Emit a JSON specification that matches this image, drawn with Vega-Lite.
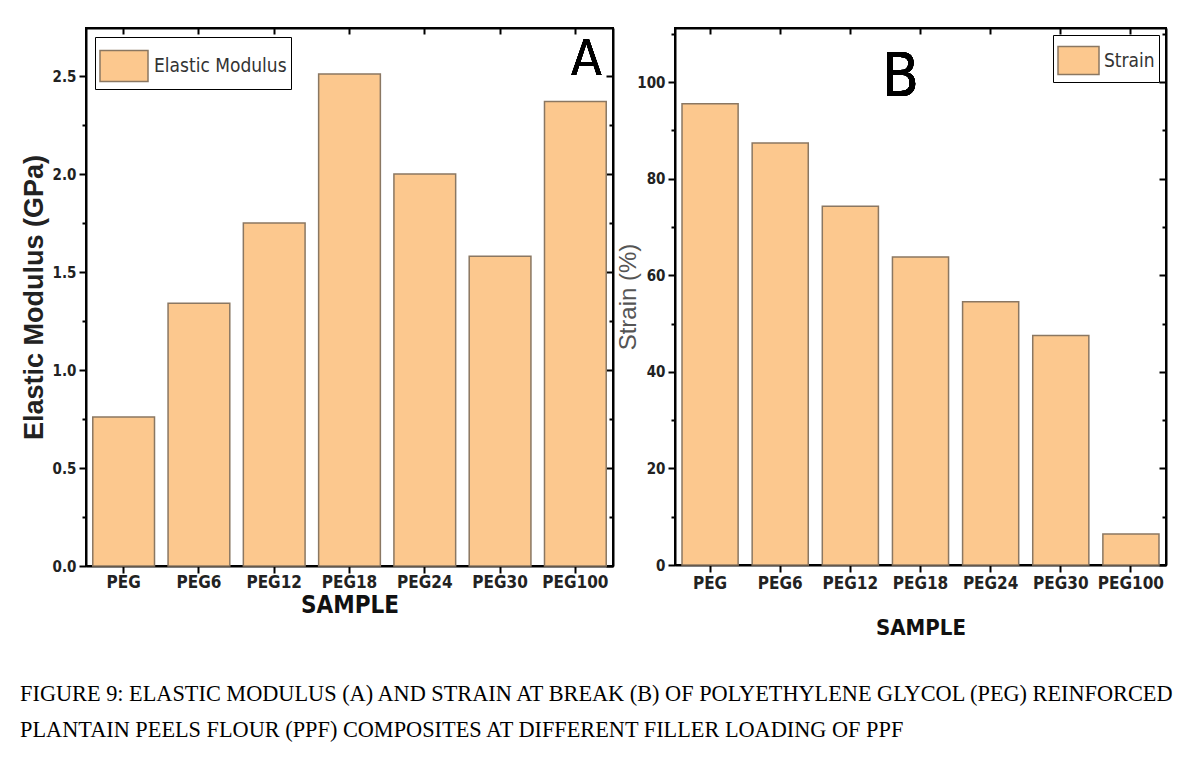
{
  "$schema": "https://vega.github.io/schema/vega-lite/v6.json",
  "background": "white",
  "padding": {"left": 19, "top": 26, "right": 20, "bottom": 5},
  "spacing": 0,
  "title": {
    "text": ["FIGURE 9: ELASTIC MODULUS (A) AND STRAIN AT BREAK (B) OF POLYETHYLENE GLYCOL (PEG) REINFORCED", "PLANTAIN PEELS FLOUR (PPF) COMPOSITES AT DIFFERENT FILLER LOADING OF PPF"],
    "orient": "bottom",
    "anchor": "start",
    "font": "Liberation Serif",
    "fontSize": 22.3,
    "fontWeight": "normal",
    "color": "#000",
    "lineHeight": 36,
    "offset": 44,
    "dx": 1
  },
  "datasets": {
    "modulus": [
      {"sample": "PEG", "value": 0.76, "series": "Elastic Modulus"},
      {"sample": "PEG6", "value": 1.34, "series": "Elastic Modulus"},
      {"sample": "PEG12", "value": 1.75, "series": "Elastic Modulus"},
      {"sample": "PEG18", "value": 2.51, "series": "Elastic Modulus"},
      {"sample": "PEG24", "value": 2.0, "series": "Elastic Modulus"},
      {"sample": "PEG30", "value": 1.58, "series": "Elastic Modulus"},
      {"sample": "PEG100", "value": 2.37, "series": "Elastic Modulus"}
    ],
    "strain": [
      {"sample": "PEG", "value": 95.5, "series": "Strain"},
      {"sample": "PEG6", "value": 87.4, "series": "Strain"},
      {"sample": "PEG12", "value": 74.3, "series": "Strain"},
      {"sample": "PEG18", "value": 63.8, "series": "Strain"},
      {"sample": "PEG24", "value": 54.5, "series": "Strain"},
      {"sample": "PEG30", "value": 47.5, "series": "Strain"},
      {"sample": "PEG100", "value": 6.4, "series": "Strain"}
    ]
  },
  "resolve": {"scale": {"fill": "independent"}, "legend": {"fill": "independent"}},
  "hconcat": [
    {
      "width": 527,
      "height": 538,
      "data": {"name": "modulus"},
      "layer": [
        {
          "mark": {"type": "bar", "stroke": "#8a7762", "strokeWidth": 1.5},
          "encoding": {
            "x": {
              "field": "sample", "type": "nominal", "sort": null,
              "scale": {"paddingInner": 0.18, "paddingOuter": 0.09},
              "title": "SAMPLE",
              "axis": {"orient": "bottom", "labelAngle": 0, "labelFont": "DejaVu Sans Condensed, Liberation Sans", "labelFontWeight": "bold", "labelFontSize": 17, "labelColor": "#222", "labelPadding": 1, "tickSize": 7, "tickWidth": 2, "tickColor": "#000", "domainWidth": 2, "domainColor": "#000", "titleFont": "DejaVu Sans Condensed, Liberation Sans", "titleFontWeight": "bold", "titleFontSize": 24, "titleColor": "#111", "titlePadding": 3}
            },
            "y": {
              "field": "value", "type": "quantitative",
              "scale": {"domain": [0, 2.745], "nice": false, "zero": true},
              "title": "Elastic Modulus (GPa)",
              "axis": {"orient": "left", "values": [0, 0.25, 0.5, 0.75, 1, 1.25, 1.5, 1.75, 2, 2.25, 2.5], "labelExpr": "datum.value % 0.5 === 0 ? format(datum.value, '.1f') : ''", "grid": false, "labelFont": "DejaVu Sans Condensed, Liberation Sans", "labelFontWeight": "bold", "labelFontSize": 15, "labelColor": "#222", "labelPadding": 3, "tickSize": {"condition": {"test": "datum.value % 0.5 !== 0", "value": 4}, "value": 7}, "tickWidth": 2, "tickColor": "#000", "domainWidth": 2, "domainColor": "#000", "titleFont": "Liberation Sans", "titleFontWeight": "bold", "titleFontSize": 27, "titleColor": "#222", "titlePadding": 4}
            },
            "fill": {
              "field": "series", "type": "nominal",
              "scale": {"range": ["#fcc88e"]},
              "legend": {"title": null, "orient": "top-left", "offset": 9, "strokeColor": "#000", "fillColor": "#fff", "padding": 4, "symbolType": "M-1,-0.65H1V0.65H-1Z", "symbolSize": 2304, "symbolStrokeColor": "#8a7762", "symbolStrokeWidth": 1.5, "labelFont": "DejaVu Sans Condensed, Liberation Sans", "labelFontSize": 19, "labelColor": "#333", "labelOffset": 5}
            }
          }
        },
        {
          "mark": {"type": "text", "text": "A", "font": "DejaVu Sans Condensed, Liberation Sans", "fontSize": 50, "color": "#000", "baseline": "middle", "align": "center", "dx": 11},
          "encoding": {
            "x": {"datum": "PEG100", "type": "nominal", "axis": {"orient": "top", "labels": false, "title": null, "tickSize": -6, "tickWidth": 2, "tickColor": "#000", "domainWidth": 2, "domainColor": "#000"}},
            "y": {"datum": 2.58, "type": "quantitative", "axis": {"orient": "right", "values": [0, 0.25, 0.5, 0.75, 1, 1.25, 1.5, 1.75, 2, 2.25, 2.5], "labels": false, "title": null, "grid": false, "tickSize": {"condition": {"test": "datum.value % 0.5 !== 0", "value": -4}, "value": -7}, "tickWidth": 2, "tickColor": "#000", "domainWidth": 2, "domainColor": "#000"}}
          }
        }
      ]
    },
    {
      "width": 491,
      "height": 537,
      "data": {"name": "strain"},
      "layer": [
        {
          "mark": {"type": "bar", "stroke": "#8a7762", "strokeWidth": 1.5},
          "encoding": {
            "x": {
              "field": "sample", "type": "nominal", "sort": null,
              "scale": {"paddingInner": 0.2, "paddingOuter": 0.1},
              "title": "SAMPLE",
              "axis": {"orient": "bottom", "labelAngle": 0, "labelFont": "DejaVu Sans Condensed, Liberation Sans", "labelFontWeight": "bold", "labelFontSize": 17, "labelColor": "#222", "labelPadding": 3, "tickSize": 7, "tickWidth": 2, "tickColor": "#000", "domainWidth": 2, "domainColor": "#000", "titleFont": "DejaVu Sans Condensed, Liberation Sans", "titleFontWeight": "bold", "titleFontSize": 22, "titleColor": "#111", "titlePadding": 26}
            },
            "y": {
              "field": "value", "type": "quantitative",
              "scale": {"domain": [0, 111.2], "nice": false, "zero": true},
              "title": "Strain (%)",
              "axis": {"orient": "left", "values": [0, 10, 20, 30, 40, 50, 60, 70, 80, 90, 100, 110], "labelExpr": "datum.value % 20 === 0 ? format(datum.value, 'd') : ''", "grid": false, "labelFont": "DejaVu Sans Condensed, Liberation Sans", "labelFontWeight": "bold", "labelFontSize": 15, "labelColor": "#222", "labelPadding": 3, "tickSize": {"condition": {"test": "datum.value % 20 !== 0", "value": 4}, "value": 7}, "tickWidth": 2, "tickColor": "#000", "domainWidth": 2, "domainColor": "#000", "titleFont": "Liberation Sans", "titleFontWeight": "normal", "titleFontSize": 24, "titleColor": "#555", "titlePadding": -4}
            },
            "fill": {
              "field": "series", "type": "nominal",
              "scale": {"range": ["#fcc88e"]},
              "legend": {"title": null, "orient": "top-right", "offset": 7, "strokeColor": "#000", "fillColor": "#fff", "padding": 4, "symbolType": "M-1,-0.68H1V0.68H-1Z", "symbolSize": 1681, "symbolStrokeColor": "#8a7762", "symbolStrokeWidth": 1.5, "labelFont": "DejaVu Sans Condensed, Liberation Sans", "labelFontSize": 19, "labelColor": "#333", "labelOffset": 4}
            }
          }
        },
        {
          "mark": {"type": "text", "text": "B", "font": "DejaVu Sans Condensed, Liberation Sans", "fontSize": 60, "color": "#000", "baseline": "middle", "align": "center", "dx": -20},
          "encoding": {
            "x": {"datum": "PEG18", "type": "nominal", "axis": {"orient": "top", "labels": false, "title": null, "tickSize": -6, "tickWidth": 2, "tickColor": "#000", "domainWidth": 2, "domainColor": "#000"}},
            "y": {"datum": 100.8, "type": "quantitative", "axis": {"orient": "right", "values": [0, 10, 20, 30, 40, 50, 60, 70, 80, 90, 100, 110], "labels": false, "title": null, "grid": false, "tickSize": {"condition": {"test": "datum.value % 20 !== 0", "value": -4}, "value": -7}, "tickWidth": 2, "tickColor": "#000", "domainWidth": 2, "domainColor": "#000"}}
          }
        }
      ]
    }
  ],
  "config": {
    "view": {"stroke": "#000", "strokeWidth": 2},
    "axis": {"grid": false}
  }
}
